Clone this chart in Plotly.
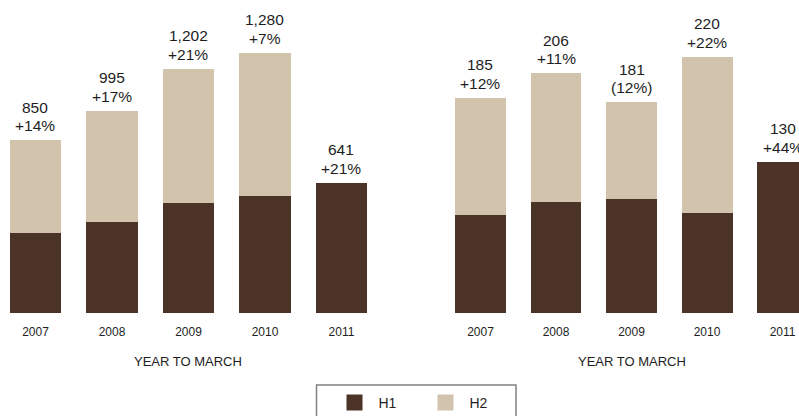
import plotly.graph_objects as go

# Fiscal years (year to March)
years = ["2007", "2008", "2009", "2010", "2011"]

# Left panel: half-year split and full-year totals
left_h1 = [394, 448, 541, 575, 641]
left_h2 = [456, 547, 661, 705, None]
left_total = [850, 995, 1202, 1280, 641]
left_labels = ["850", "995", "1,202", "1,280", "641"]
left_change = ["+14%", "+17%", "+21%", "+7%", "+21%"]

# Right panel: half-year split and full-year totals
right_h1 = [84, 95, 98, 86, 130]
right_h2 = [101, 111, 83, 134, None]
right_total = [185, 206, 181, 220, 130]
right_labels = ["185", "206", "181", "220", "130"]
right_change = ["+12%", "+11%", "(12%)", "+22%", "+44%"]

H1_COLOR = "#4b3328"
H2_COLOR = "#d1c3ac"
TEXT_COLOR = "#1e1e1e"
FONT = "Liberation Sans, Arial, sans-serif"

W, H = 799, 416
PLOT_BOTTOM = 313  # pixel row of the bar baseline

pos = list(range(len(years)))  # bar slots on a linear x axis

fig = go.Figure()

panels = [
    ("x", "y", left_h1, left_h2, left_total, left_labels, left_change, 0.667),
    ("x2", "y2", right_h1, right_h2, right_total, right_labels, right_change, 0.675),
]

for xa, ya, h1, h2, tot, labs, chg, bw in panels:
    fig.add_trace(go.Bar(x=pos, y=h1, xaxis=xa, yaxis=ya, width=bw,
                         marker=dict(color=H1_COLOR, line=dict(width=0)),
                         showlegend=False, hoverinfo="skip"))
    fig.add_trace(go.Bar(x=pos, y=h2, xaxis=xa, yaxis=ya, width=bw,
                         marker=dict(color=H2_COLOR, line=dict(width=0)),
                         showlegend=False, hoverinfo="skip"))
    # value and growth labels above each bar
    for p, t, lab, c in zip(pos, tot, labs, chg):
        fig.add_annotation(x=p, y=t, xref=xa, yref=ya, text=lab,
                           showarrow=False, yanchor="middle", yshift=33,
                           font=dict(family=FONT, size=15.5, color=TEXT_COLOR))
        fig.add_annotation(x=p, y=t, xref=xa, yref=ya, text=c,
                           showarrow=False, yanchor="middle", yshift=14.5,
                           font=dict(family=FONT, size=15.5, color=TEXT_COLOR))
    # axis caption centred under the bar group
    fig.add_annotation(x=pos[2], y=-(361 - PLOT_BOTTOM) / PLOT_BOTTOM,
                       xref=xa, yref="paper", text="YEAR TO MARCH",
                       showarrow=False, yanchor="middle",
                       font=dict(family=FONT, size=13, color=TEXT_COLOR))

# legend entries
fig.add_trace(go.Scatter(x=[None], y=[None], mode="markers", name="H1",
                         marker=dict(symbol="square", size=16, color=H1_COLOR)))
fig.add_trace(go.Scatter(x=[None], y=[None], mode="markers", name="H2",
                         marker=dict(symbol="square", size=16, color=H2_COLOR)))

# legend frame
fig.add_shape(type="rect", xref="paper", yref="paper",
              x0=316.5 / W, x1=516 / W,
              y0=-(385 - PLOT_BOTTOM) / PLOT_BOTTOM, y1=-(430 - PLOT_BOTTOM) / PLOT_BOTTOM,
              line=dict(color="#808080", width=1.5), fillcolor="rgba(0,0,0,0)")

axis_common = dict(type="linear", tickmode="array", tickvals=pos, ticktext=years,
                   showgrid=False, zeroline=False, showline=False,
                   ticks="outside", ticklen=0, tickcolor="rgba(0,0,0,0)",
                   ticklabelstandoff=8,
                   tickfont=dict(family=FONT, size=12, color=TEXT_COLOR),
                   fixedrange=True)
yaxis_common = dict(showgrid=False, zeroline=False, showline=False,
                    showticklabels=False, ticks="", fixedrange=True)

fig.update_layout(
    width=W, height=H,
    margin=dict(l=0, r=0, t=0, b=H - PLOT_BOTTOM, pad=0, autoexpand=False),
    barmode="stack",
    paper_bgcolor="white", plot_bgcolor="white",
    font=dict(family=FONT, color=TEXT_COLOR),
    xaxis=dict(domain=[0, 400 / W], range=[-0.464, 4.765], anchor="y", **axis_common),
    xaxis2=dict(domain=[400 / W, 1], range=[-1.066, 4.218], anchor="y2", **axis_common),
    yaxis=dict(domain=[0, 1], range=[0, 1540], anchor="x", **yaxis_common),
    yaxis2=dict(domain=[0, 1], range=[0, 268.7], anchor="x2", **yaxis_common),
    showlegend=True,
    legend=dict(orientation="h", x=330.5 / W, xanchor="left", traceorder="normal",
                y=-(387 - PLOT_BOTTOM) / PLOT_BOTTOM, yanchor="top",
                font=dict(family=FONT, size=14, color=TEXT_COLOR),
                bgcolor="rgba(0,0,0,0)", borderwidth=0,
                itemwidth=38, entrywidth=38, entrywidthmode="pixels",
                itemclick=False, itemdoubleclick=False),
)

fig.write_html("out.html", config={"displayModeBar": False})
